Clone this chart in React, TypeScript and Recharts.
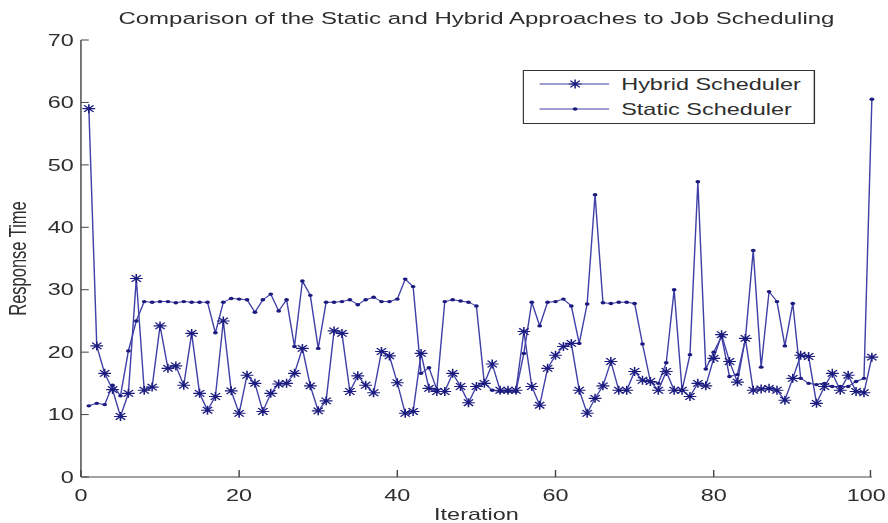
import { LineChart, Line, XAxis, YAxis } from "recharts";

// iteration index 1..100
const iterations = Array.from({ length: 100 }, (_, i) => i + 1);

const hybridTimes = [
  59.0, 21.0, 16.6, 14.0, 9.7, 13.4, 31.8, 13.9, 14.4, 24.2,
  17.4, 17.8, 14.7, 23.0, 13.4, 10.7, 12.9, 25.0, 13.8, 10.2,
  16.3, 15.0, 10.5, 13.4, 14.9, 15.0, 16.6, 20.6, 14.6, 10.6,
  12.2, 23.4, 23.0, 13.7, 16.2, 14.7, 13.5, 20.1, 19.4, 15.1,
  10.2, 10.5, 19.8, 14.2, 13.7, 13.7, 16.6, 14.5, 11.9, 14.5,
  15.0, 18.1, 13.9, 13.9, 13.9, 23.3, 14.5, 11.5, 17.4, 19.5,
  20.9, 21.4, 13.9, 10.2, 12.6, 14.6, 18.5, 13.9, 13.9, 16.9,
  15.5, 15.3, 13.9, 16.9, 13.9, 13.9, 12.9, 15.0, 14.6, 19.0,
  22.8, 18.5, 15.2, 22.2, 13.9, 14.1, 14.2, 13.9, 12.3, 15.8,
  19.5, 19.3, 11.8, 14.5, 16.6, 13.9, 16.3, 13.7, 13.5, 19.2,
];

const staticTimes = [
  11.4, 11.8, 11.6, 14.7, 13.0, 20.2, 25.0, 28.1, 28.0, 28.1,
  28.1, 27.9, 28.1, 28.0, 28.0, 28.0, 23.1, 28.0, 28.6, 28.5,
  28.4, 26.4, 28.4, 29.3, 26.6, 28.4, 20.9, 31.4, 29.1, 20.6,
  28.0, 28.0, 28.1, 28.4, 27.6, 28.4, 28.8, 28.1, 28.1, 28.5,
  31.7, 30.5, 16.6, 17.5, 14.0, 28.1, 28.4, 28.2, 28.0, 27.4,
  15.0, 13.9, 13.7, 13.7, 13.7, 19.8, 28.0, 24.2, 28.0, 28.1,
  28.5, 27.4, 21.4, 27.7, 45.2, 27.9, 27.8, 28.0, 28.0, 27.8,
  21.3, 15.3, 15.0, 18.3, 30.0, 13.9, 19.6, 47.3, 17.3, 20.0,
  22.5, 16.1, 16.4, 22.0, 36.3, 17.6, 29.7, 28.1, 21.0, 27.8,
  15.8, 15.0, 14.8, 15.0, 14.5, 14.5, 14.5, 15.3, 15.8, 60.5,
];

const xTicks = [0, 20, 40, 60, 80, 100];
const yTicks = [0, 10, 20, 30, 40, 50, 60, 70];

const data = iterations.map((it, i) => ({
  iteration: it,
  hybrid: hybridTimes[i],
  static: staticTimes[i],
}));

// the original figure is stretched sideways, so draw narrow and scale x
const STRETCH = 1.42;
const W = 625;
const H = 523;
const FONT = '"Liberation Sans", Arial, Helvetica, sans-serif';
const FS = 16.5;
const LINE = "#4040a8";
const MARK = "#1c1c80";
const AXIS = "#444";
const TEXT = "#2e2e2e";

const starPath = (cx: number, cy: number) => {
  const r = 4.5;
  const d = 3.3;
  return `M${cx - r},${cy}H${cx + r}M${cx},${cy - r}V${cy + r}M${cx - d},${cy - d}L${cx + d},${cy + d}M${cx - d},${cy + d}L${cx + d},${cy - d}`;
};

const StarDot = (props: any) => {
  const { cx, cy, index } = props;
  if (cx == null || cy == null) return <g key={index} />;
  return <path key={index} d={starPath(cx, cy)} stroke={MARK} strokeWidth={1.1} fill="none" />;
};

const PointDot = (props: any) => {
  const { cx, cy, index } = props;
  if (cx == null || cy == null) return <g key={index} />;
  return <circle key={index} cx={cx} cy={cy} r={1.7} fill={MARK} />;
};

const XTick = (p: any) => {
  // last label sits at the right edge, nudge it in so it is not clipped
  const shift = p.payload.value === 100 ? -3 : 0;
  return (
    <g>
      <line x1={p.x} x2={p.x} y1={p.y} y2={p.y - 7} stroke={AXIS} />
      <text x={p.x + shift} y={p.y + 24} textAnchor="middle" fontSize={FS} fontFamily={FONT} fill={TEXT}>
        {p.payload.value}
      </text>
    </g>
  );
};

const YTick = (p: any) => (
  <g>
    <line x1={p.x} x2={p.x + 5.5} y1={p.y} y2={p.y} stroke={AXIS} />
    <text x={p.x - 5} y={p.y} dy="0.35em" textAnchor="end" fontSize={FS} fontFamily={FONT} fill={TEXT}>
      {p.payload.value}
    </text>
  </g>
);

function LegendBox() {
  return (
    <svg
      width={206}
      height={54}
      style={{ position: "absolute", left: 368, top: 70, overflow: "visible" }}
    >
      <rect x={0.5} y={0.5} width={205} height={53} fill="#fff" stroke="#333" />
      <line x1={12} x2={61} y1={14} y2={14} stroke={LINE} />
      <path d={starPath(37, 14)} stroke={MARK} strokeWidth={1.1} fill="none" />
      <text x={69.5} y={14} dy="0.35em" fontSize={FS} fontFamily={FONT} fill={TEXT}>
        Hybrid Scheduler
      </text>
      <line x1={12} x2={61} y1={39} y2={39} stroke={LINE} />
      <circle cx={37} cy={39} r={1.7} fill={MARK} />
      <text x={69.5} y={39} dy="0.35em" fontSize={FS} fontFamily={FONT} fill={TEXT}>
        Static Scheduler
      </text>
    </svg>
  );
}

export default function App() {
  return (
    <div style={{ position: "absolute", left: 0, top: 0, width: 888, height: 523, overflow: "hidden", background: "#fff" }}>
      <div style={{ position: "relative", width: W, height: H, transform: `scaleX(${STRETCH})`, transformOrigin: "0 0" }}>
        <LineChart width={W} height={H} data={data} margin={{ top: 40, right: 11, left: 0, bottom: 0 }}>
          <XAxis
            type="number"
            dataKey="iteration"
            domain={[0, 100]}
            ticks={xTicks}
            tickSize={0}
            tickMargin={0}
            tickLine={false}
            height={46}
            axisLine={{ stroke: AXIS }}
            tick={XTick}
            label={{
              value: "Iteration",
              position: "insideBottom",
              offset: 3,
              style: { fontSize: FS, fontFamily: FONT, fill: TEXT },
            }}
          />
          <YAxis
            type="number"
            domain={[0, 70]}
            ticks={yTicks}
            tickSize={0}
            tickMargin={0}
            tickLine={false}
            width={57}
            axisLine={{ stroke: AXIS }}
            tick={YTick}
            label={{
              value: "Response Time",
              angle: -90,
              position: "insideLeft",
              offset: 12.7,
              style: { textAnchor: "middle", fontSize: FS, fontFamily: FONT, fill: TEXT },
            }}
          />
          <Line
            type="linear"
            dataKey="hybrid"
            name="Hybrid Scheduler"
            stroke={LINE}
            strokeWidth={1}
            dot={StarDot}
            activeDot={false}
            isAnimationActive={false}
          />
          <Line
            type="linear"
            dataKey="static"
            name="Static Scheduler"
            stroke={LINE}
            strokeWidth={1}
            dot={PointDot}
            activeDot={false}
            isAnimationActive={false}
          />
        </LineChart>
        <div
          style={{
            position: "absolute",
            left: 57,
            width: 557,
            top: 10,
            textAlign: "center",
            fontFamily: FONT,
            fontSize: 16.9,
            lineHeight: "17px",
            color: TEXT,
            whiteSpace: "nowrap",
          }}
        >
          Comparison of the Static and Hybrid Approaches to Job Scheduling
        </div>
        <LegendBox />
      </div>
    </div>
  );
}
